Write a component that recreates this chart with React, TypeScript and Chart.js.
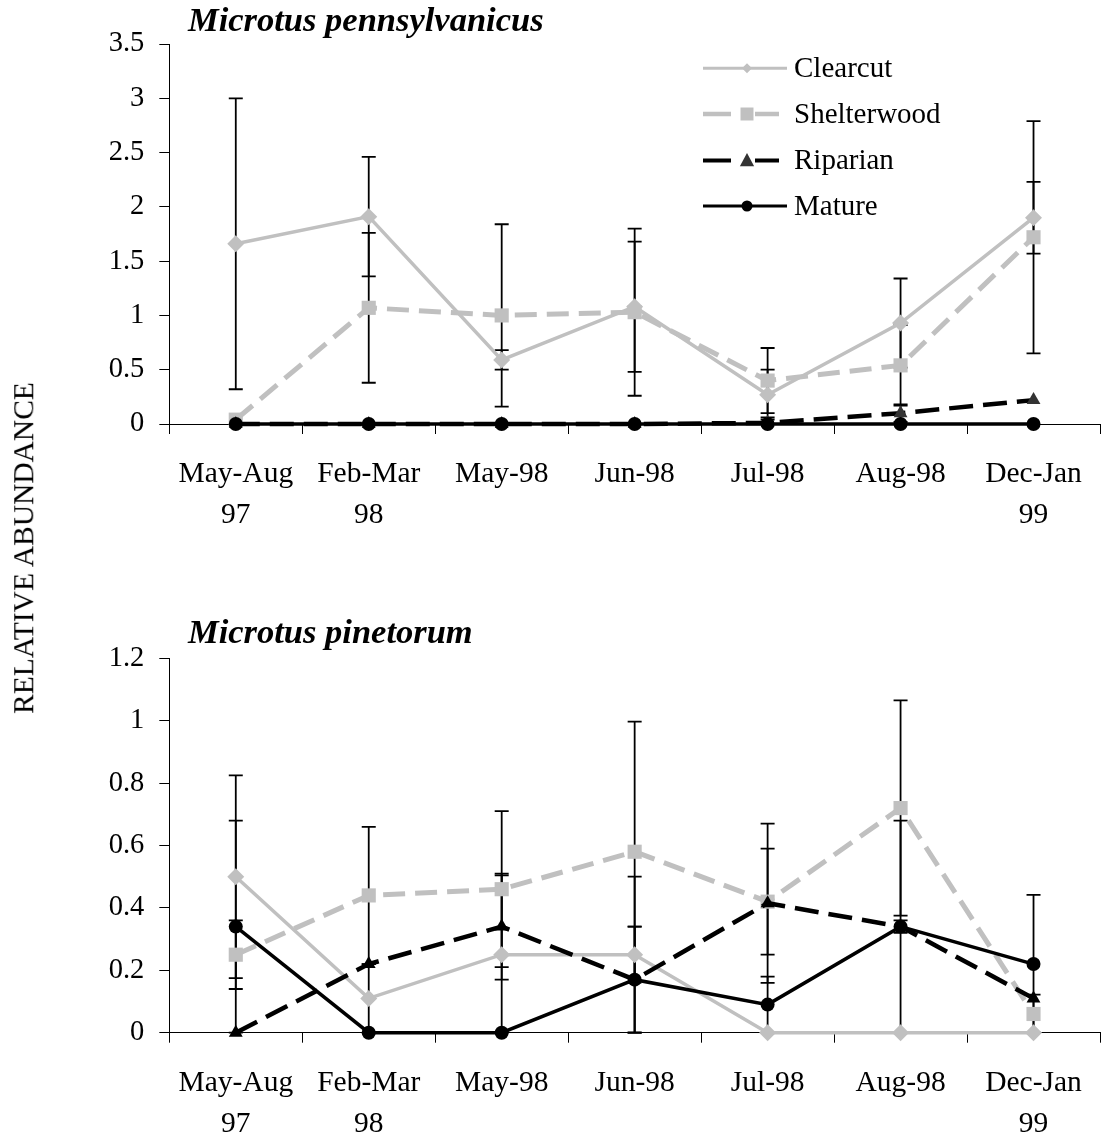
import React, { useEffect, useRef } from 'react';
import { Chart, registerables } from 'chart.js';

Chart.register(...registerables);

// ---------- data ----------
const CATEGORIES: (string | string[])[] = [
  ['May-Aug', '97'],
  ['Feb-Mar', '98'],
  'May-98',
  'Jun-98',
  'Jul-98',
  'Aug-98',
  ['Dec-Jan', '99'],
];
const SERIES_NAMES = ['Clearcut', 'Shelterwood', 'Riparian', 'Mature'];

const TITLE_TOP = 'Microtus pennsylvanicus';
const TITLE_BOTTOM = 'Microtus pinetorum';
const Y_TITLE = 'RELATIVE ABUNDANCE';

// Microtus pennsylvanicus
const PENN_CLEARCUT = [1.66, 1.91, 0.59, 1.08, 0.27, 0.93, 1.9];
const PENN_CLEARCUT_ERR = [1.34, 0.55, 0.09, 0.6, 0.23, 0.41, 0.33];
const PENN_SHELTERWOOD = [0.04, 1.07, 1.0, 1.03, 0.4, 0.54, 1.72];
const PENN_SHELTERWOOD_ERR = [0, 0.69, 0.84, 0.77, 0.3, 0.37, 1.07];
const PENN_RIPARIAN = [0, 0, 0, 0, 0.01, 0.1, 0.22];
const PENN_RIPARIAN_ERR = [0, 0, 0, 0, 0.05, 0.08, 0];
const PENN_MATURE = [0, 0, 0, 0, 0, 0, 0];
const PENN_MATURE_ERR = [0, 0, 0, 0, 0, 0, 0];
const PENN_Y_MAX = 3.5;
const PENN_Y_STEP = 0.5;

// Microtus pinetorum
const PINE_CLEARCUT = [0.5, 0.11, 0.25, 0.25, 0, 0, 0];
const PINE_CLEARCUT_ERR = [0.325, 0.11, 0.254, 0.25, 0, 0, 0];
const PINE_SHELTERWOOD = [0.25, 0.44, 0.46, 0.58, 0.42, 0.72, 0.06];
const PINE_SHELTERWOOD_ERR = [0.11, 0.22, 0.25, 0.417, 0.17, 0.345, 0.062];
const PINE_RIPARIAN = [0, 0.22, 0.34, 0.17, 0.415, 0.34, 0.11];
const PINE_RIPARIAN_ERR = [0, 0, 0.17, 0.17, 0.255, 0.34, 0];
const PINE_MATURE = [0.34, 0, 0, 0.17, 0.09, 0.34, 0.22];
const PINE_MATURE_ERR = [0.34, 0, 0, 0.17, 0.09, 0.02, 0.222];
const PINE_Y_MAX = 1.2;
const PINE_Y_STEP = 0.2;

// ---------- styles ----------
const FONT = '"Liberation Serif", "Times New Roman", Times, serif';
const CANVAS_W = 1110;
const AREA_LEFT = 169.3;
const AREA_RIGHT = 1108.7;

type Style = { color: string; width: number; dash: number[]; point: string; radius: number; legendSize: number };
const STYLES: Style[] = [
  { color: '#c0c0c0', width: 3.5, dash: [], point: 'rectRot', radius: 8.5, legendSize: 5 },
  { color: '#c0c0c0', width: 5, dash: [22, 10], point: 'rect', radius: 10, legendSize: 6.5 },
  { color: '#000000', width: 4.5, dash: [24, 10], point: 'triangle', radius: 8, legendSize: 7.5 },
  { color: '#000000', width: 3.5, dash: [], point: 'circle', radius: 7, legendSize: 5.5 },
];

function drawMarker(ctx: CanvasRenderingContext2D, style: string, x: number, y: number, r: number, fill: string) {
  ctx.save();
  ctx.fillStyle = fill;
  ctx.setLineDash([]);
  ctx.beginPath();
  if (style === 'rectRot') {
    ctx.moveTo(x, y - r);
    ctx.lineTo(x + r, y);
    ctx.lineTo(x, y + r);
    ctx.lineTo(x - r, y);
  } else if (style === 'rect') {
    ctx.rect(x - r, y - r, 2 * r, 2 * r);
  } else if (style === 'triangle') {
    ctx.moveTo(x, y - r);
    ctx.lineTo(x + r * 0.95, y + r * 0.75);
    ctx.lineTo(x - r * 0.95, y + r * 0.75);
  } else {
    ctx.arc(x, y, r, 0, Math.PI * 2);
  }
  ctx.closePath();
  ctx.fill();
  ctx.restore();
}

const errorBarPlugin = {
  id: 'errorBars',
  beforeDatasetsDraw(chart: any) {
    const ctx: CanvasRenderingContext2D = chart.ctx;
    const yScale = chart.scales.y;
    const area = chart.chartArea;
    ctx.save();
    ctx.beginPath();
    ctx.rect(area.left - 20, area.top - 20, area.right - area.left + 40, area.bottom - area.top + 22);
    ctx.clip();
    ctx.strokeStyle = '#000';
    ctx.lineWidth = 1.8;
    ctx.setLineDash([]);
    chart.data.datasets.forEach((ds: any, i: number) => {
      const errs: number[] | undefined = ds.errors;
      if (!errs) return;
      const meta = chart.getDatasetMeta(i);
      meta.data.forEach((pt: any, j: number) => {
        const e = errs[j];
        if (!e) return;
        const v = ds.data[j];
        const x = pt.x;
        const yTop = yScale.getPixelForValue(v + e);
        const yBot = yScale.getPixelForValue(Math.max(v - e, 0));
        ctx.beginPath();
        ctx.moveTo(x, yTop);
        ctx.lineTo(x, yBot);
        ctx.moveTo(x - 7, yTop);
        ctx.lineTo(x + 7, yTop);
        ctx.moveTo(x - 7, yBot);
        ctx.lineTo(x + 7, yBot);
        ctx.stroke();
      });
    });
    ctx.restore();
  },
};

function titlePlugin(text: string, baseline: number) {
  return {
    id: 'panelTitle',
    afterDraw(chart: any) {
      const ctx: CanvasRenderingContext2D = chart.ctx;
      ctx.save();
      ctx.font = `italic bold 34.5px ${FONT}`;
      ctx.fillStyle = '#000';
      ctx.textBaseline = 'alphabetic';
      ctx.textAlign = 'left';
      ctx.fillText(text, 188, baseline);
      ctx.restore();
    },
  };
}

const LEGEND_ROWS = [68.3, 114, 160.5, 206];
const legendPlugin = {
  id: 'customLegend',
  afterDraw(chart: any) {
    const ctx: CanvasRenderingContext2D = chart.ctx;
    ctx.save();
    chart.data.datasets.forEach((ds: any, i: number) => {
      const st = STYLES[i];
      const y = LEGEND_ROWS[i];
      ctx.strokeStyle = st.color;
      ctx.lineWidth = st.width - 0.5;
      ctx.lineCap = 'butt';
      if (st.dash.length) {
        ctx.setLineDash([28, 24]);
        ctx.beginPath();
        ctx.moveTo(703, y);
        ctx.lineTo(779, y);
        ctx.stroke();
      } else {
        ctx.setLineDash([]);
        ctx.beginPath();
        ctx.moveTo(703, y);
        ctx.lineTo(787, y);
        ctx.stroke();
      }
      drawMarker(ctx, st.point, 747, y, st.legendSize, i === 2 ? '#333333' : st.color);
      ctx.setLineDash([]);
      ctx.font = `29px ${FONT}`;
      ctx.fillStyle = '#000';
      ctx.textBaseline = 'middle';
      ctx.textAlign = 'left';
      ctx.fillText(ds.label, 794, y + 1);
    });
    ctx.restore();
  },
};

type PanelOpts = {
  series: number[][];
  errors: number[][];
  yMax: number;
  yStep: number;
  title: string;
  titleBaseline: number;
  areaTop: number;
  areaBottom: number;
  canvasH: number;
  legend: boolean;
  triFill: string;
};

function buildConfig(o: PanelOpts): any {
  return {
    type: 'line',
    data: {
      labels: CATEGORIES,
      datasets: o.series.map((d, i) => {
        const st = STYLES[i];
        const fill = i === 2 ? o.triFill : st.color;
        return {
          label: SERIES_NAMES[i],
          data: d,
          errors: o.errors[i],
          borderColor: st.color,
          backgroundColor: fill,
          borderWidth: st.width,
          borderDash: st.dash,
          borderCapStyle: 'butt',
          borderJoinStyle: 'miter',
          pointStyle: st.point,
          pointRadius: st.radius,
          pointHoverRadius: st.radius,
          pointBackgroundColor: fill,
          pointBorderColor: fill,
          pointBorderWidth: 0,
          tension: 0,
          fill: false,
          clip: false,
          order: 4 - i,
        };
      }),
    },
    options: {
      responsive: false,
      animation: false,
      events: [],
      layout: { padding: { top: o.areaTop, right: CANVAS_W - AREA_RIGHT, left: 0, bottom: 0 } },
      plugins: {
        legend: { display: false },
        tooltip: { enabled: false },
        title: { display: false },
      },
      scales: {
        x: {
          type: 'category',
          offset: true,
          grid: { offset: true, drawOnChartArea: false, drawTicks: true, tickLength: 10, color: '#000', lineWidth: 1 },
          border: { display: true, color: '#000', width: 1 },
          ticks: {
            color: '#000',
            font: { family: FONT, size: 29.5, lineHeight: 1.38 },
            padding: 20,
            maxRotation: 0,
            minRotation: 0,
            autoSkip: false,
          },
          afterFit: (s: any) => {
            s.height = o.canvasH - o.areaBottom;
          },
        },
        y: {
          min: 0,
          max: o.yMax,
          ticks: {
            stepSize: o.yStep,
            color: '#000',
            font: { family: FONT, size: 28.5 },
            padding: 15,
            callback: (v: any) => String(Number(Number(v).toFixed(2))),
          },
          grid: { drawOnChartArea: false, drawTicks: true, tickLength: 10, color: '#000', lineWidth: 1 },
          border: { display: true, color: '#000', width: 1 },
          afterFit: (s: any) => {
            s.width = AREA_LEFT;
          },
        },
      },
    },
    plugins: [errorBarPlugin, titlePlugin(o.title, o.titleBaseline), ...(o.legend ? [legendPlugin] : [])],
  };
}

const TOP_CANVAS_TOP = 0;
const TOP_CANVAS_H = 580;
const BOTTOM_CANVAS_TOP = 580;
const BOTTOM_CANVAS_H = 559;

export default function App() {
  const topRef = useRef<HTMLCanvasElement | null>(null);
  const bottomRef = useRef<HTMLCanvasElement | null>(null);

  useEffect(() => {
    if (!topRef.current || !bottomRef.current) return;
    const top = new Chart(
      topRef.current,
      buildConfig({
        series: [PENN_CLEARCUT, PENN_SHELTERWOOD, PENN_RIPARIAN, PENN_MATURE],
        errors: [PENN_CLEARCUT_ERR, PENN_SHELTERWOOD_ERR, PENN_RIPARIAN_ERR, PENN_MATURE_ERR],
        yMax: PENN_Y_MAX,
        yStep: PENN_Y_STEP,
        title: TITLE_TOP,
        titleBaseline: 31,
        areaTop: 44,
        areaBottom: 424,
        canvasH: TOP_CANVAS_H,
        legend: true,
        triFill: '#333333',
      })
    );
    const bottom = new Chart(
      bottomRef.current,
      buildConfig({
        series: [PINE_CLEARCUT, PINE_SHELTERWOOD, PINE_RIPARIAN, PINE_MATURE],
        errors: [PINE_CLEARCUT_ERR, PINE_SHELTERWOOD_ERR, PINE_RIPARIAN_ERR, PINE_MATURE_ERR],
        yMax: PINE_Y_MAX,
        yStep: PINE_Y_STEP,
        title: TITLE_BOTTOM,
        titleBaseline: 643 - BOTTOM_CANVAS_TOP,
        areaTop: 658.3 - BOTTOM_CANVAS_TOP,
        areaBottom: 1032.7 - BOTTOM_CANVAS_TOP,
        canvasH: BOTTOM_CANVAS_H,
        legend: false,
        triFill: '#000000',
      })
    );
    return () => {
      top.destroy();
      bottom.destroy();
    };
  }, []);

  return (
    <div
      style={{
        position: 'absolute',
        left: 0,
        top: 0,
        width: 1104,
        height: 1139,
        overflow: 'hidden',
        background: '#fff',
      }}
    >
      <canvas
        ref={topRef}
        width={CANVAS_W}
        height={TOP_CANVAS_H}
        style={{ position: 'absolute', left: 0, top: TOP_CANVAS_TOP, width: CANVAS_W, height: TOP_CANVAS_H }}
      />
      <canvas
        ref={bottomRef}
        width={CANVAS_W}
        height={BOTTOM_CANVAS_H}
        style={{ position: 'absolute', left: 0, top: BOTTOM_CANVAS_TOP, width: CANVAS_W, height: BOTTOM_CANVAS_H }}
      />
      <div
        style={{
          position: 'absolute',
          left: 24,
          top: 548,
          transform: 'translate(-50%, -50%) rotate(-90deg)',
          whiteSpace: 'nowrap',
          fontFamily: FONT,
          fontSize: 29.5,
          lineHeight: 1,
          color: '#000',
        }}
      >
        {Y_TITLE}
      </div>
    </div>
  );
}
